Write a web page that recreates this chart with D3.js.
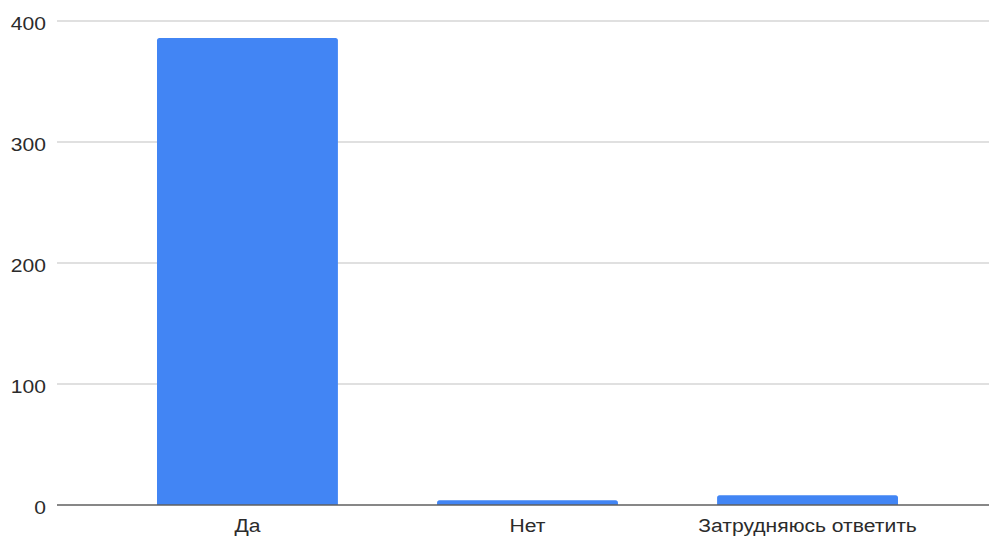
<!DOCTYPE html>
<html>
<head>
<meta charset="utf-8">
<script src="https://cdn.jsdelivr.net/npm/d3@7"></script>
<style>
  html, body { margin: 0; padding: 0; background: #fff; }
  svg { display: block; }
  text { font-family: "Liberation Sans", Arial, sans-serif; fill: #2b2b2b; }
</style>
</head>
<body>
<svg id="chart" width="989" height="537"></svg>
<script>
// Survey answers and response counts
const categories = ["Да", "Нет", "Затрудняюсь ответить"];
const values = [386, 4, 8];
const yTicks = [0, 100, 200, 300, 400];

const svg = d3.select("#chart");
const plot = { left: 57, right: 989, top: 21, bottom: 505 };
const fontSize = 19, stretch = 1.11;

const y = d3.scaleLinear().domain([0, 400]).range([plot.bottom, plot.top]);
const x = d3.scaleBand()
  .domain(categories)
  .range([157, 898])
  .paddingInner(0.354)
  .paddingOuter(0);

// Horizontal gridlines
svg.append("g")
  .selectAll("line")
  .data(yTicks.filter(d => d !== 0))
  .join("line")
  .attr("x1", plot.left).attr("x2", plot.right)
  .attr("y1", d => y(d)).attr("y2", d => y(d))
  .attr("stroke", "#d6d6d6")
  .attr("stroke-width", 1.3);

// Y-axis tick labels
svg.append("g")
  .selectAll("text")
  .data(yTicks)
  .join("text")
  .attr("transform", d => `translate(46,${y(d) + 8.5}) scale(${stretch},1)`)
  .attr("text-anchor", "end")
  .attr("font-size", fontSize)
  .text(d => d);

// Bars with slightly rounded top corners
const r = 2.5;
function barPath(x0, w, yTop, yBase) {
  const rr = Math.min(r, (yBase - yTop));
  return `M${x0},${yBase}V${yTop + rr}Q${x0},${yTop} ${x0 + rr},${yTop}` +
         `H${x0 + w - rr}Q${x0 + w},${yTop} ${x0 + w},${yTop + rr}V${yBase}Z`;
}
svg.append("g")
  .selectAll("path")
  .data(categories.map((c, i) => ({ c, v: values[i] })))
  .join("path")
  .attr("d", d => barPath(x(d.c), x.bandwidth(), y(d.v), y(0)))
  .attr("fill", "#4285f4");

// Baseline
svg.append("line")
  .attr("x1", plot.left).attr("x2", plot.right)
  .attr("y1", y(0)).attr("y2", y(0))
  .attr("stroke", "#5f5f5f")
  .attr("stroke-width", 1.5);

// Category labels
svg.append("g")
  .selectAll("text")
  .data(categories)
  .join("text")
  .attr("transform", d => `translate(${x(d) + x.bandwidth() / 2},531.5) scale(${stretch},1)`)
  .attr("text-anchor", "middle")
  .attr("font-size", fontSize)
  .text(d => d);
</script>
</body>
</html>
